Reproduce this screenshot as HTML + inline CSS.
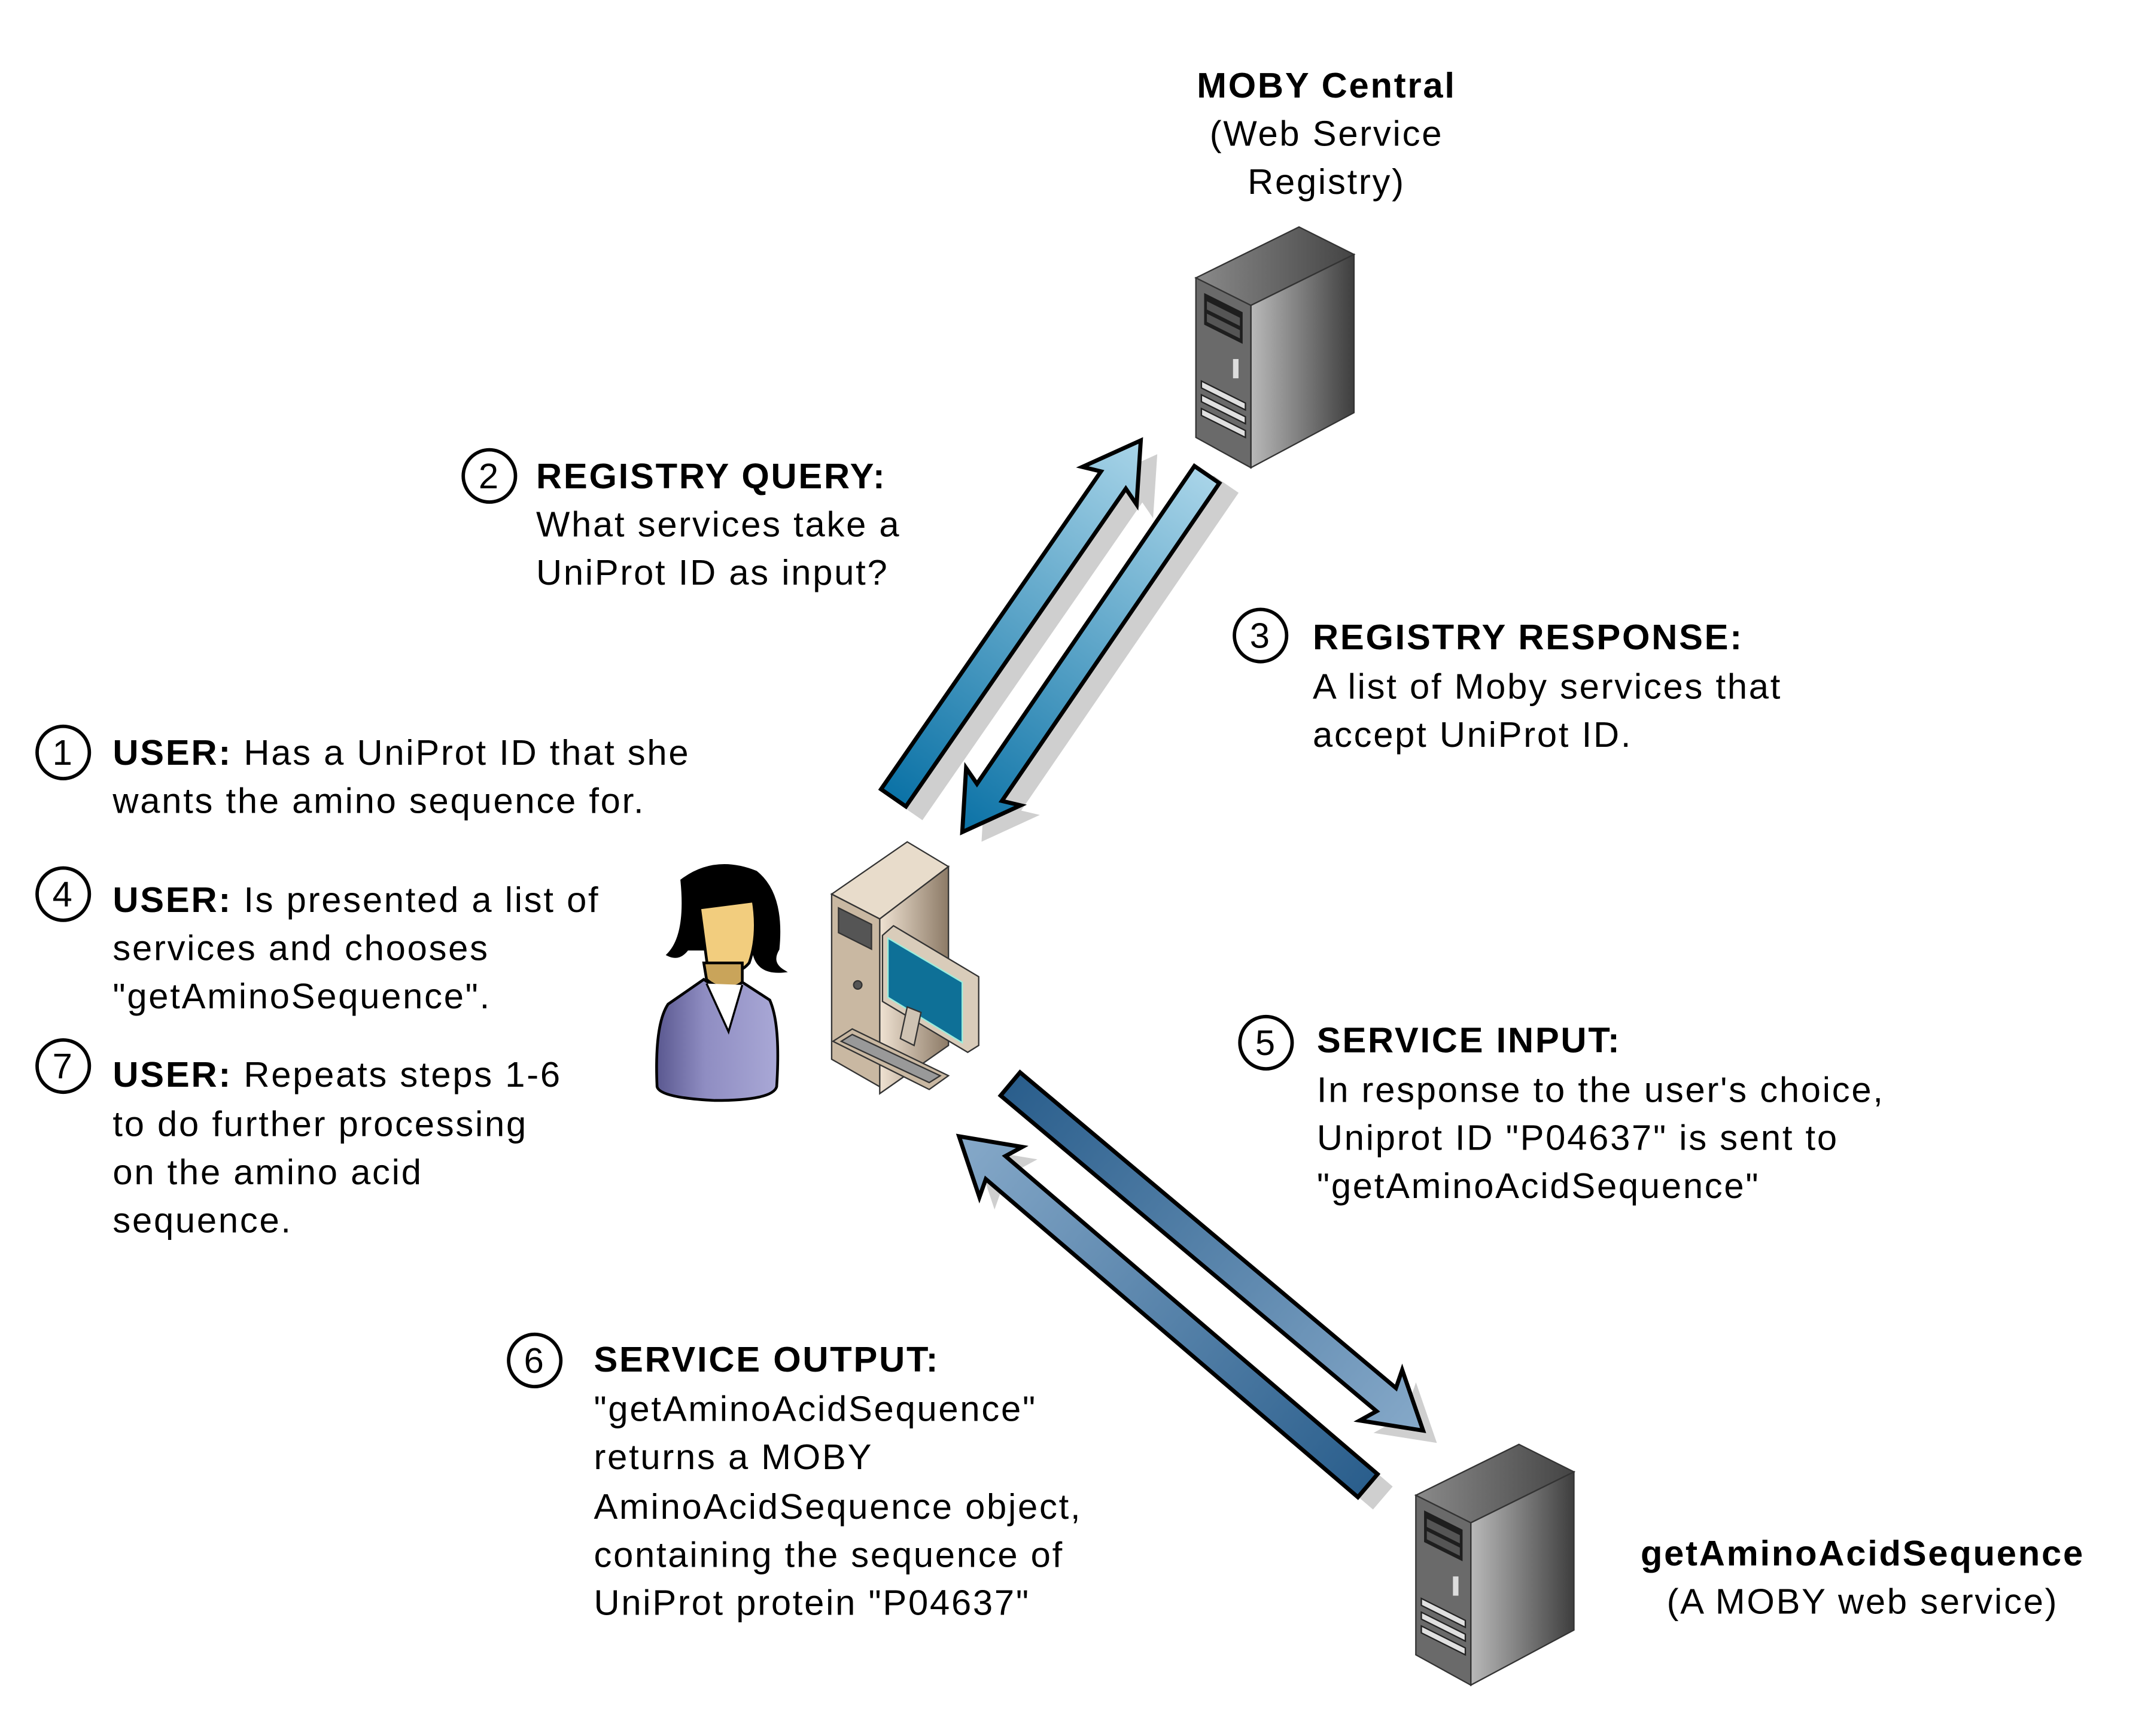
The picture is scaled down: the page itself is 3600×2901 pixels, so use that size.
<!DOCTYPE html>
<html><head><meta charset="utf-8"><style>
html,body{margin:0;padding:0;background:#fff}
svg{display:block}
text{font-family:"Liberation Sans",Arial,sans-serif;font-size:26px;letter-spacing:1.2px;fill:#000}
.b{font-weight:bold}
</style></head><body>
<svg width="3600" height="2901" viewBox="0 0 1567 1262" preserveAspectRatio="none" xmlns="http://www.w3.org/2000/svg">
<defs>
<linearGradient id="gUp" x1="0" y1="0" x2="1" y2="0"><stop offset="0" stop-color="#0b72a6"/><stop offset="1" stop-color="#a8d4e8"/></linearGradient>
<linearGradient id="gDn" x1="0" y1="0" x2="1" y2="0"><stop offset="0" stop-color="#a8d4e8"/><stop offset="1" stop-color="#0b72a6"/></linearGradient>
<linearGradient id="gLo" x1="0" y1="0" x2="1" y2="0"><stop offset="0" stop-color="#2a5e8c"/><stop offset="1" stop-color="#86a9c9"/></linearGradient>
<linearGradient id="sideG" x1="0" y1="0" x2="1" y2="0"><stop offset="0" stop-color="#b9b9b9"/><stop offset="1" stop-color="#3e3e3e"/></linearGradient>
<linearGradient id="topG" x1="0" y1="0" x2="1" y2="0"><stop offset="0" stop-color="#8a8a8a"/><stop offset="1" stop-color="#444"/></linearGradient>
<linearGradient id="tan" x1="0" y1="0" x2="1" y2="0"><stop offset="0" stop-color="#efe2d2"/><stop offset="1" stop-color="#8c7a66"/></linearGradient>
<linearGradient id="shirt" x1="0" y1="0" x2="1" y2="0"><stop offset="0" stop-color="#5a5890"/><stop offset="0.4" stop-color="#8f8dc2"/><stop offset="1" stop-color="#a9a8d6"/></linearGradient>
<g id="server">
<polygon points="0,37 75,0 115,20 40,57" fill="url(#topG)" stroke="#333" stroke-width="1"/>
<polygon points="40,57 115,20 115,135 40,175" fill="url(#sideG)" stroke="#333" stroke-width="1"/>
<polygon points="0,37 40,57 40,175 0,153" fill="#6a6a6a" stroke="#333" stroke-width="1"/>
<polygon points="6,48 34,62 34,85 6,71" fill="#1e1e1e"/>
<polygon points="8,54 32,66 32,72 8,60" fill="#555"/>
<polygon points="8,63 32,75 32,81 8,69" fill="#555"/>
<rect x="27" y="96" width="4" height="14" fill="#ddd"/>
<polygon points="4,112 36,128 36,133 4,117" fill="#e0e0e0" stroke="#222" stroke-width="1"/>
<polygon points="4,122 36,138 36,143 4,127" fill="#e0e0e0" stroke="#222" stroke-width="1"/>
<polygon points="4,132 36,148 36,153 4,137" fill="#e0e0e0" stroke="#222" stroke-width="1"/>
</g>
</defs>

<g fill="#cfcfcf">
<g transform="translate(662,590) rotate(-55.3)"><polygon points="0,-11 281,-11 276,-24 316,0 276,24 281,11 0,11"/></g>
<g transform="translate(892,352) rotate(124.4)"><polygon points="0,-11 280,-11 275,-24 315,0 275,24 280,11 0,11"/></g>
<g transform="translate(745,797) rotate(40)"><polygon points="0,-11 357,-11 352,-24 392,0 352,24 357,11 0,11"/></g>
<g transform="translate(1006,1089) rotate(220.5)"><polygon points="0,-11 356,-11 351,-24 391,0 351,24 356,11 0,11"/></g>
</g>
<g stroke="#000" stroke-width="3" stroke-linejoin="miter">
<g transform="translate(650,580) rotate(-55.3)"><polygon points="0,-11 281,-11 276,-24 316,0 276,24 281,11 0,11" fill="url(#gUp)"/></g>
<g transform="translate(878,345) rotate(124.4)"><polygon points="0,-11 280,-11 275,-24 315,0 275,24 280,11 0,11" fill="url(#gDn)"/></g>
<g transform="translate(735,788) rotate(40)"><polygon points="0,-11 357,-11 352,-24 392,0 352,24 357,11 0,11" fill="url(#gLo)"/></g>
<g transform="translate(995,1080) rotate(220.5)"><polygon points="0,-11 356,-11 351,-24 391,0 351,24 356,11 0,11" fill="url(#gLo)"/></g>
</g>

<use href="#server" x="870" y="165"/>
<use href="#server" x="1030" y="1050"/>

<g stroke="#000" stroke-width="2">
<path d="M496,640 Q520,622 550,634 Q570,650 566,690 Q560,700 570,706 Q550,708 548,690 L500,690 Q494,698 486,694 Q500,680 496,640Z" fill="#000"/>
<path d="M509,660 L548,655 Q552,680 545,700 Q535,712 515,705 Z" fill="#f2cd7e"/>
<path d="M512,700 L514,712 Q525,722 540,715 L540,700 Z" fill="#c9a45a"/>
<path d="M512,712 L486,730 Q476,745 478,790 Q480,798 520,800 Q562,800 565,790 Q568,745 560,727 L540,714 Q528,724 512,712Z" fill="url(#shirt)"/>
<path d="M514,715 L530,750 L540,716" fill="#fff" stroke-width="1.5"/>
</g>

<g stroke="#333" stroke-width="1">
<polygon points="605,650 660,612 690,630 640,668" fill="#e8dccb"/>
<polygon points="640,668 690,630 690,760 640,795" fill="url(#tan)"/>
<polygon points="605,650 640,668 640,790 605,770" fill="#c9b8a2"/>
<polygon points="610,660 634,672 634,690 610,678" fill="#555"/>
<circle cx="624" cy="716" r="3" fill="#555"/>
<polygon points="642,680 650,673 712,710 712,760 704,765 642,728" fill="#d9ccba"/>
<polygon points="646,682 700,714 700,758 646,725" fill="#0e7097" stroke="#9ed"/>
<polygon points="660,732 670,736 665,760 655,755" fill="#cfc3b3"/>
<polygon points="606,757 620,748 690,782 676,792" fill="#c9b8a2"/>
<polygon points="612,757 620,752 684,782 676,787" fill="#999"/>
</g>

<g fill="none" stroke="#000" stroke-width="2.5">
<circle cx="46" cy="547" r="19"/><circle cx="46" cy="650" r="19"/><circle cx="46" cy="775" r="19"/>
<circle cx="356" cy="346" r="19"/><circle cx="917" cy="462" r="19"/><circle cx="921" cy="758" r="19"/><circle cx="389" cy="989" r="19"/>
</g>
<g text-anchor="middle">
<text x="46" y="556">1</text><text x="46" y="659">4</text><text x="46" y="784">7</text>
<text x="356" y="355">2</text><text x="917" y="471">3</text><text x="921" y="767">5</text><text x="389" y="998">6</text>
</g>

<text x="82" y="556"><tspan class="b">USER:</tspan> Has a UniProt ID that she</text>
<text x="82" y="591">wants the amino sequence for.</text>
<text x="82" y="663"><tspan class="b">USER:</tspan> Is presented a list of</text>
<text x="82" y="698">services and chooses</text>
<text x="82" y="733">"getAminoSequence".</text>
<text x="82" y="790"><tspan class="b">USER:</tspan> Repeats steps 1-6</text>
<text x="82" y="826">to do further processing</text>
<text x="82" y="861">on the amino acid</text>
<text x="82" y="896">sequence.</text>

<text x="390" y="355" class="b">REGISTRY QUERY:</text>
<text x="390" y="390">What services take a</text>
<text x="390" y="425">UniProt ID as input?</text>

<text x="955" y="472" class="b">REGISTRY RESPONSE:</text>
<text x="955" y="508">A list of Moby services that</text>
<text x="955" y="543">accept UniProt ID.</text>

<text x="958" y="765" class="b">SERVICE INPUT:</text>
<text x="958" y="801">In response to the user's choice,</text>
<text x="958" y="836">Uniprot ID "P04637" is sent to</text>
<text x="958" y="871">"getAminoAcidSequence"</text>

<text x="432" y="997" class="b">SERVICE OUTPUT:</text>
<text x="432" y="1033">"getAminoAcidSequence"</text>
<text x="432" y="1068">returns a MOBY</text>
<text x="432" y="1104">AminoAcidSequence object,</text>
<text x="432" y="1139">containing the sequence of</text>
<text x="432" y="1174">UniProt protein "P04637"</text>

<g text-anchor="middle">
<text x="965" y="71" class="b">MOBY Central</text>
<text x="965" y="106">(Web Service</text>
<text x="965" y="141">Registry)</text>
<text x="1355" y="1138" class="b">getAminoAcidSequence</text>
<text x="1355" y="1173">(A MOBY web service)</text>
</g>
</svg>
</body></html>
